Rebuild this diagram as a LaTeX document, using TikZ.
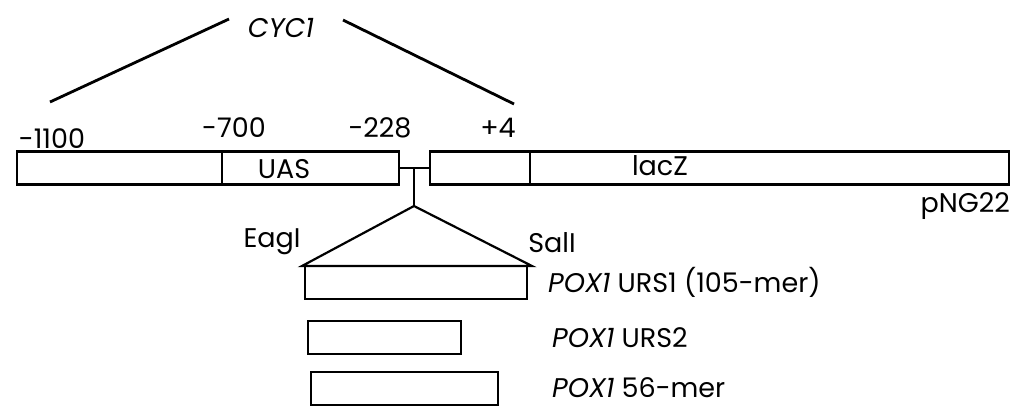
\documentclass[tikz,border=0pt]{standalone}
\usepackage{fontspec}
\setmainfont{Poppins}
\begin{document}
\begin{tikzpicture}[x=1pt,y=-1pt,
  box/.style={draw,line width=2.2pt,inner sep=0pt,minimum height=33pt},
  ln/.style={line width=2.2pt},
  lbl/.style={inner sep=0pt,font=\fontsize{27}{32}\selectfont},
  every node/.style={lbl}]
\useasboundingbox (0,0) rectangle (1029,408);
% CYC1 bracket
\node (cyc) at (281,28) {\textit{CYC1}};
\coordinate (cl1) at (50,102); \coordinate (cl2) at (229,19);
\coordinate (cr1) at (343,20); \coordinate (cr2) at (514,104);
\draw[line width=2.8pt] (cl1) -- (cl2);
\draw[line width=2.8pt] (cr1) -- (cr2);
% position labels
\node[anchor=base] (p1) at (52,148) {-1100};
\node[anchor=base] (p2) at (234,137) {-700};
\node[anchor=base] (p3) at (380,137) {-228};
\node[anchor=base] (p4) at (498,137) {+4};
% main bars
\node[box,minimum width=382pt] (b1) at (208,168) {};
\node[box,minimum width=579pt] (b2) at (719.5,168) {};
\coordinate (d1) at (222,0);
\coordinate (d2) at (530,0);
\draw[ln] (b1.north -| d1) -- (b1.south -| d1);
\draw[ln] (b2.north -| d2) -- (b2.south -| d2);
\node (uas) at (284,169) {UAS};
\node (lacz) at (660,166) {lacZ};
\node[anchor=east] (png) at (1010,206) {pNG22};
% insertion connector
\coordinate (j) at (414,168);
\coordinate (apex) at (414,206);
\draw[ln] (b1.east) -- (b2.west);
\draw[ln] (j) -- (apex);
\coordinate (tl) at (302,266);
\coordinate (tr) at (532,266);
\draw[ln,line join=miter] (tl) -- (apex) -- (tr) -- cycle;
\node (eag) at (272,242) {EagI};
\node (sal) at (552,243) {SalI};
% fragments
\node[box,minimum width=222pt] (r1) at (416,282.5) {};
\node[box,minimum width=153pt] (r2) at (384.5,337.5) {};
\node[box,minimum width=187pt] (r3) at (404.5,388.5) {};
\node[anchor=west] (t1) at (548,282) {\textit{POX1} URS1 (105-mer)};
\node[anchor=west] (t2) at (552,338) {\textit{POX1} URS2};
\node[anchor=west] (t3) at (552,388) {\textit{POX1} 56-mer};
\end{tikzpicture}
\end{document}
